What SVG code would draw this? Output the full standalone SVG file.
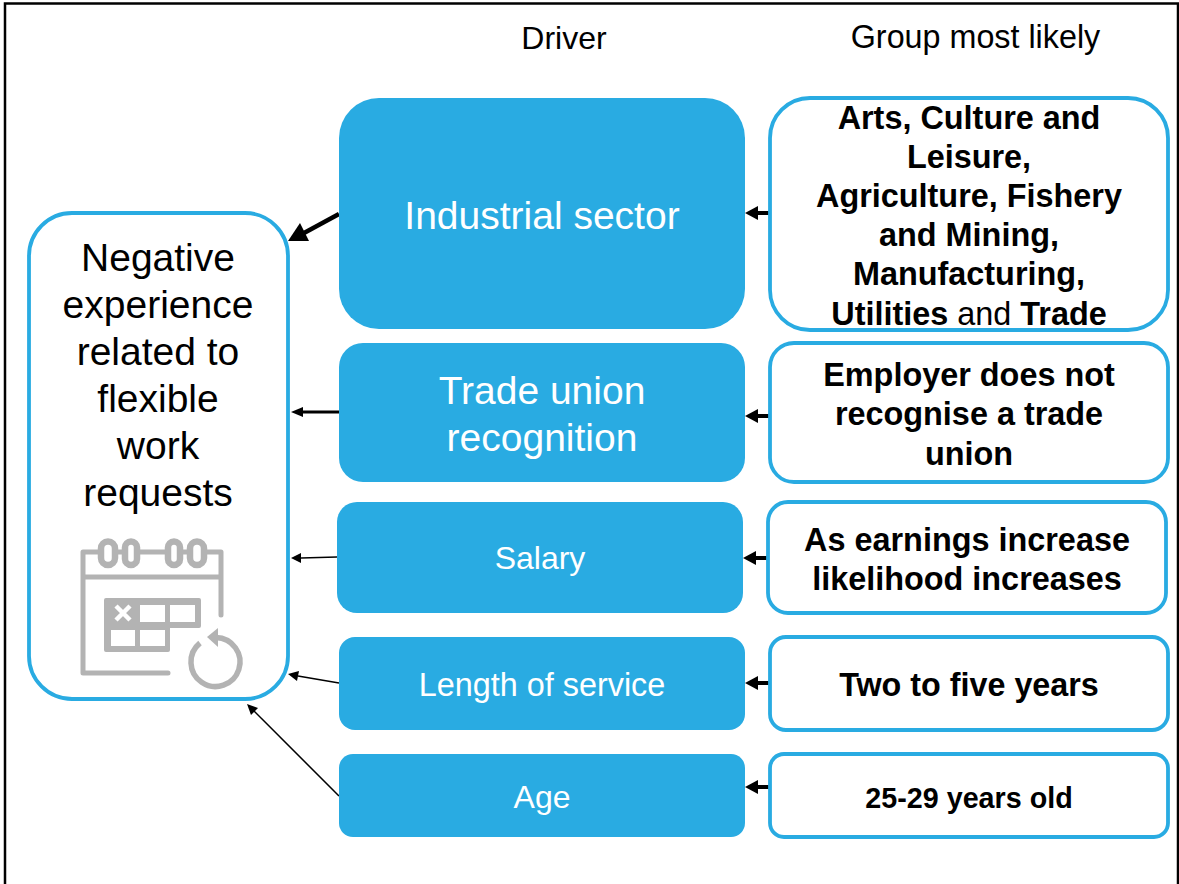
<svg xmlns="http://www.w3.org/2000/svg" width="1179" height="884" viewBox="0 0 1179 884">
<style>
text{font-family:"Liberation Sans",Arial,sans-serif;text-anchor:middle}
.d{fill:#29abe2}
.o{fill:#fff;stroke:#29abe2;stroke-width:3.800}
.w{fill:#fff}
.b{fill:#000;font-weight:700}
.k{fill:#000}
.c{stroke:#000;fill:none}
.h{fill:#000}
.i{stroke:#b3b3b3;fill:none;stroke-width:5;stroke-linecap:round;stroke-linejoin:round}
.r{stroke:#b3b3b3;fill:#fff;stroke-width:6.500}
</style>
<rect width="1179" height="884" fill="#fff"/>
<path d="M5 884V3.500H1178V884" fill="none" stroke="#000" stroke-width="2.500"/>
<text class="k" x="564" y="49" font-size="32">Driver</text>
<text class="k" x="975.500" y="47.500" font-size="32.300">Group most likely</text>
<g id="connectors">
<path class="c" stroke-width="4.500" d="M339 214L304 233"/><path class="h" d="M288 241L300 223L309 241Z"/>
<path class="c" stroke-width="3" d="M339 412H302"/><path class="h" d="M291 412L303 407V417Z"/>
<path class="c" stroke-width="1.500" d="M337 557L301 558"/><path class="h" d="M291 558L301 553V563Z"/>
<path class="c" stroke-width="1.500" d="M339 683L298 676"/><path class="h" d="M288 674L299 671L297 681Z"/>
<path class="c" stroke-width="1.500" d="M339 796L254 711"/><path class="h" d="M247 704L258 708L251 715Z"/>
<path class="c" stroke-width="4" d="M769 213H756"/><path class="h" d="M745 213L758 206V220Z"/>
<path class="c" stroke-width="4" d="M769 416H756"/><path class="h" d="M745 416L758 409V423Z"/>
<path class="c" stroke-width="4" d="M767 558H754"/><path class="h" d="M743 558L756 551V565Z"/>
<path class="c" stroke-width="4" d="M769 683H756"/><path class="h" d="M745 683L758 676V690Z"/>
<path class="c" stroke-width="4" d="M769 787H756"/><path class="h" d="M745 787L758 780V794Z"/>
</g>
<g id="outcome">
<rect class="o" x="29" y="213" width="259" height="486" rx="43"/>
<text class="k" font-size="39"><tspan x="158" y="270.500">Negative</tspan><tspan x="158" y="317.500">experience</tspan><tspan x="158" y="364.500">related to</tspan><tspan x="158" y="411.500">flexible</tspan><tspan x="158" y="458.500">work</tspan><tspan x="158" y="505.500">requests</tspan></text>
<g id="calendar-icon">
<path class="i" d="M221 615V552H83V673H168M83 577H221"/>
<rect class="r" x="101" y="541.500" width="14" height="23.500" rx="7"/>
<rect class="r" x="125" y="541.500" width="12" height="23.500" rx="6"/>
<rect class="r" x="168" y="541.500" width="12" height="23.500" rx="6"/>
<rect class="r" x="190" y="541.500" width="14" height="23.500" rx="7"/>
<path d="M104 600a2 2 0 0 1 2-2h93a2 2 0 0 1 2 2v26a2 2 0 0 1-2 2h-29v22a2 2 0 0 1-2 2h-62a2 2 0 0 1-2-2Z" fill="#b3b3b3"/>
<path d="M140 605h25v17h-25zM170 605h25v17h-25zM111 630h24v16h-24zM140 630h25v16h-25z" fill="#fff"/>
<path d="M116 606L130 620M130 606L116 620" stroke="#fff" stroke-width="4.500" fill="none"/>
<path d="M216 637.500A24.500 24.500 0 1 1 200 643" class="i" style="stroke-width:5.500;stroke-linecap:butt"/>
<path d="M207 637L218 628V647Z" fill="#b3b3b3"/>
</g>
</g>
<g id="driver-industrial"><rect class="d" x="339" y="98" width="406" height="231" rx="40"/><text class="w" x="542" y="228.500" font-size="39">Industrial sector</text></g>
<g id="driver-union"><rect class="d" x="339" y="343" width="406" height="139" rx="24"/><text class="w" font-size="39"><tspan x="542" y="403.500">Trade union</tspan><tspan x="542" y="450.500">recognition</tspan></text></g>
<g id="driver-salary"><rect class="d" x="337" y="502" width="406" height="111" rx="20"/><text class="w" x="540" y="569" font-size="32">Salary</text></g>
<g id="driver-service"><rect class="d" x="339" y="637" width="406" height="93" rx="16"/><text class="w" x="542" y="695.500" font-size="32.400">Length of service</text></g>
<g id="driver-age"><rect class="d" x="339" y="754" width="406" height="83" rx="14"/><text class="w" x="542" y="808" font-size="32">Age</text></g>
<g id="group-industrial"><rect class="o" x="770" y="98" width="398" height="232" rx="40"/>
<text class="b" font-size="32.400"><tspan x="969" y="128.500">Arts, Culture and</tspan><tspan x="969" y="167.500">Leisure,</tspan><tspan x="969" y="206.500">Agriculture, Fishery</tspan><tspan x="969" y="245.500">and Mining,</tspan><tspan x="969" y="284.500">Manufacturing,</tspan><tspan x="969" y="324.500">Utilities <tspan font-weight="400">and</tspan> Trade</tspan></text></g>
<g id="group-union"><rect class="o" x="770" y="343" width="398" height="139" rx="24"/>
<text class="b" font-size="32.400"><tspan x="969" y="385.500">Employer does not</tspan><tspan x="969" y="424.500">recognise a trade</tspan><tspan x="969" y="464.500">union</tspan></text></g>
<g id="group-salary"><rect class="o" x="768" y="502" width="398" height="111" rx="20"/>
<text class="b" font-size="32.400"><tspan x="967" y="550.500">As earnings increase</tspan><tspan x="967" y="589.500">likelihood increases</tspan></text></g>
<g id="group-service"><rect class="o" x="770" y="637" width="398" height="93" rx="16"/><text class="b" x="969" y="695.500" font-size="32.300">Two to five years</text></g>
<g id="group-age"><rect class="o" x="770" y="754" width="398" height="83" rx="14"/><text class="b" x="969" y="807.500" font-size="28.700">25-29 years old</text></g>
</svg>
